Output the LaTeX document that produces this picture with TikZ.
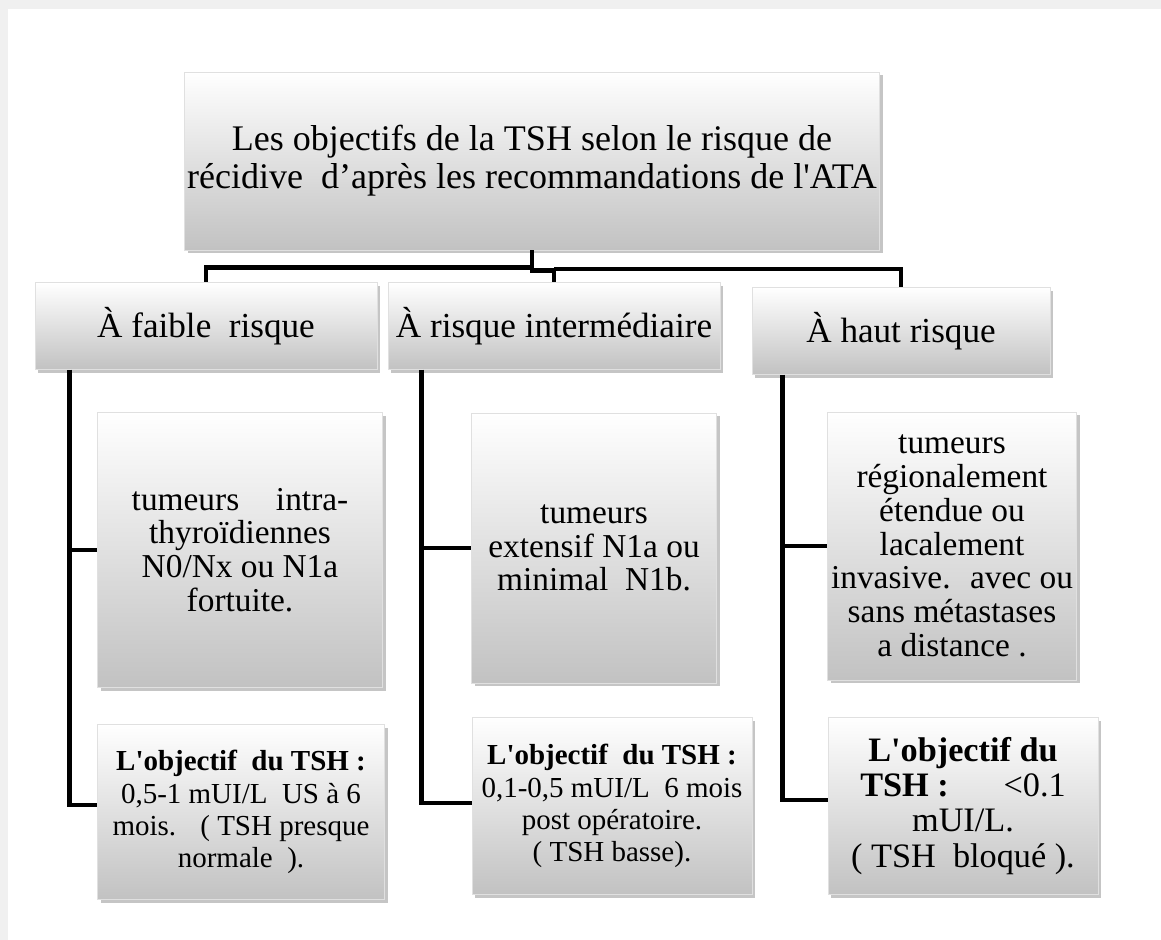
\documentclass[tikz,border=0pt]{standalone}
\usepackage{fontspec}
\setmainfont{Liberation Serif}
\usetikzlibrary{shadows}

\begin{document}
\begin{tikzpicture}[x=0.02cm,y=-0.02cm,
	boite/.style={draw=black!12,top color=white,middle color=black!3,bottom color=black!24,drop shadow={shadow xshift=1.8pt,shadow yshift=-1.8pt,opacity=0.45},align=center,inner sep=1pt},
	lien/.style={line width=2.6pt}]
	\useasboundingbox (0,0) rectangle (1161,940);
	\fill[black!6] (0,0) rectangle (1161,940);
	\fill[white] (8,9) rectangle (1161,940);

	\node[boite,minimum width=13.9cm,minimum height=3.56cm,font=\fontsize{20.5}{21.5}\selectfont] (top) at (532,161)
		{Les objectifs de la TSH selon le risque de\\récidive~ d’après les recommandations de l\textquotesingle ATA};

	\node[boite,minimum width=6.84cm,minimum height=1.74cm,font=\fontsize{20}{21}\selectfont] (risque-f) at (206,326) {À faible~ risque};
	\node[boite,minimum width=6.64cm,minimum height=1.74cm,font=\fontsize{20}{21}\selectfont] (risque-i) at (554,326) {À risque intermédiaire};
	\node[boite,minimum width=5.96cm,minimum height=1.74cm,font=\fontsize{20}{21}\selectfont] (risque-h) at (901,331) {À haut risque};

	\node[boite,minimum width=5.7cm,minimum height=5.5cm,font=\fontsize{19}{19.2}\selectfont] (cas-f) at (240,550)
		{tumeurs\hspace{1.1em}intra-\\thyroïdiennes\\N0/Nx ou N1a\\fortuite.};
	\node[boite,minimum width=4.9cm,minimum height=5.4cm,font=\fontsize{19}{19.2}\selectfont] (cas-i) at (594,548)
		{tumeurs\\extensif N1a ou\\minimal~ N1b.};
	\node[boite,minimum width=4.98cm,minimum height=5.36cm,font=\fontsize{19}{19.2}\selectfont] (cas-h) at (952,546)
		{tumeurs\\régionalement\\étendue ou\\lacalement\\invasive.~ avec ou\\sans métastases\\a distance .};

	\node[boite,minimum width=5.74cm,minimum height=3.5cm,font=\fontsize{16.5}{18.3}\selectfont] (obj-f) at (241,812)
		{\textbf{L\textquotesingle objectif~ du TSH :}\\0,5-1 mUI/L~ US à 6\\mois.~~ ( TSH presque\\normale~ ).};
	\node[boite,minimum width=5.6cm,minimum height=3.54cm,font=\fontsize{16.5}{18.3}\selectfont] (obj-i) at (612,806)
		{\textbf{L\textquotesingle objectif~ du TSH :}\\0,1-0,5 mUI/L~ 6 mois\\post opératoire.\\( TSH basse).};
	\node[boite,minimum width=5.4cm,minimum height=3.54cm,font=\fontsize{19.5}{20}\selectfont] (obj-h) at (963,806)
		{\textbf{L\textquotesingle objectif du}\\\textbf{TSH :}\hspace{1.6em}<0.1\\mUI/L.\\( TSH~ bloqué ).};

	\draw[lien] (top.south) -- ++(0,17) -| (risque-f.north);
	\draw[lien] (top.south) -- ++(0,20) -| (risque-i.north);
	\draw[lien] (risque-i.north) ++(0,-13) -| (risque-h.north);

	\foreach \n/\d/\e in {f/0.7/0.14,i/0.68/0.06,h/0.62/0.12}{
		\draw[lien] ([xshift=\d cm]risque-\n.south west) |- (cas-\n.west);
		\draw[lien] ([xshift=\d cm]risque-\n.south west) |- ([yshift=\e cm]obj-\n.west);
	}
\end{tikzpicture}
\end{document}
